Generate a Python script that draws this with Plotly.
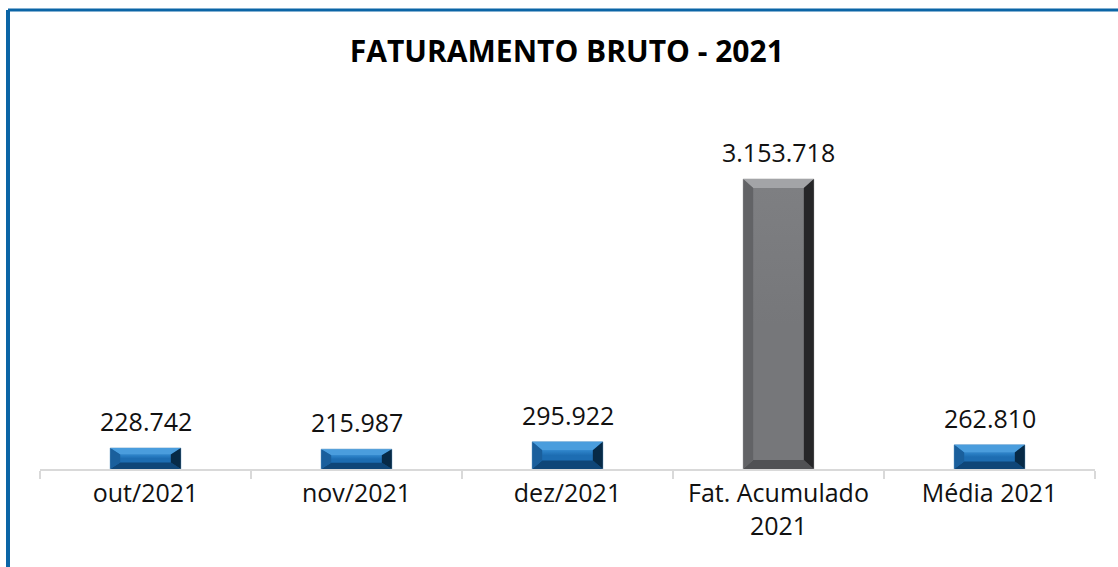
import plotly.graph_objects as go

categories = ["out/2021", "nov/2021", "dez/2021", "Fat. Acumulado<br>2021", "Média 2021"]
values = [228742, 215987, 295922, 3153718, 262810]
bar_kind = ["blue", "blue", "blue", "gray", "blue"]

FONT = "Open Sans"
W, H = 1118, 567
ML, MR, MT, MB = 40, 23, 100, 98
YMAX = 4013000
BAR_W = 0.335

plot_w = W - ML - MR
plot_h = H - MT - MB
px_per_x = plot_w / 5.0
px_per_y = plot_h / YMAX

palette = {
    "blue": dict(face="#1d6db2", face_top="#2f86cc", top="#4a9ddd", bottom="#0f4678",
                 left="#1a5f9c", right="#072a47", edge="#9fc0dc"),
    "gray": dict(face="#76777a", face_top="#7e7f82", top="#a3a4a7", bottom="#505154",
                 left="#626366", right="#262628", edge="#c8c8c8"),
}

fig = go.Figure()

xs = list(range(len(values)))
fig.add_trace(go.Bar(
    x=xs, y=values, width=BAR_W,
    marker=dict(color=[palette[k]["face"] for k in bar_kind],
                line=dict(color=[palette[k]["edge"] for k in bar_kind], width=1)),
    hoverinfo="skip", showlegend=False,
))

for i, (v, kind) in enumerate(zip(values, bar_kind)):
    c = palette[kind]
    x0, x1 = i - BAR_W / 2, i + BAR_W / 2
    h_px = v * px_per_y
    by_px = min(9.0, h_px / 3.2)
    bx = 10.0 / px_per_x
    by = by_px / px_per_y
    # face with a soft vertical gradient
    fig.add_trace(go.Scatter(
        x=[x0 + bx, x1 - bx, x1 - bx, x0 + bx, x0 + bx],
        y=[by, by, v - by, v - by, by], mode="lines", fill="toself",
        fillgradient=dict(type="vertical", colorscale=[[0, c["face"]], [0.5, c["face"]], [1, c["face_top"]]]),
        line=dict(width=0), hoverinfo="skip", showlegend=False,
    ))
    polys = {
        "top": ([x0, x1, x1 - bx, x0 + bx, x0], [v, v, v - by, v - by, v]),
        "bottom": ([x0, x1, x1 - bx, x0 + bx, x0], [0, 0, by, by, 0]),
        "left": ([x0, x0, x0 + bx, x0 + bx, x0], [0, v, v - by, by, 0]),
        "right": ([x1, x1, x1 - bx, x1 - bx, x1], [0, v, v - by, by, 0]),
    }
    for side, (px, py) in polys.items():
        fig.add_trace(go.Scatter(
            x=px, y=py, mode="lines", fill="toself", fillcolor=c[side],
            line=dict(width=0, color=c[side]), hoverinfo="skip", showlegend=False,
        ))
    fig.add_annotation(
        x=i, y=v, text=f"{v:,}".replace(",", "."), showarrow=False,
        yanchor="bottom", yshift=8, font=dict(family=FONT, size=25, color="#111111"),
    )

fig.update_layout(
    width=W, height=H,
    margin=dict(l=ML, r=MR, t=MT, b=MB),
    paper_bgcolor="white", plot_bgcolor="white",
    title=dict(text="<b>FATURAMENTO BRUTO - 2021</b>", x=0.507, xanchor="center",
               y=1 - 51 / H, yanchor="middle",
               font=dict(family=FONT, size=30, color="#000000")),
    xaxis=dict(range=[-0.5, 4.5], tickvals=[-0.5, 0.5, 1.5, 2.5, 3.5, 4.5],
               ticktext=[""] * 6, ticks="outside", ticklen=8, tickcolor="#d9d9d9",
               tickwidth=2, showline=True, linecolor="#d9d9d9", linewidth=2,
               showgrid=False, zeroline=False, fixedrange=True),
    xaxis2=dict(range=[-0.5, 4.5], overlaying="x", side="bottom", tickvals=xs,
                ticktext=categories, ticks="", showline=False, showgrid=False,
                zeroline=False, tickfont=dict(family=FONT, size=25, color="#111111"),
                ticklabelstandoff=7),
    yaxis=dict(range=[0, YMAX], visible=False, showgrid=False, zeroline=False),
)

fig.add_trace(go.Scatter(x=[0], y=[0], xaxis="x2", mode="markers",
                         marker=dict(opacity=0), hoverinfo="skip", showlegend=False))

# chart frame (blue border on left and top)
left_x = (8 - ML) / plot_w
top_y = (H - MB - 10) / plot_h
fig.add_shape(type="line", xref="paper", yref="paper", x0=left_x, x1=left_x,
              y0=-1, y1=top_y, line=dict(color="#0b65a6", width=4))
fig.add_shape(type="line", xref="paper", yref="paper", x0=left_x, x1=1.2,
              y0=top_y, y1=top_y, line=dict(color="#0b65a6", width=3))

fig.write_html("out.html", config={"displayModeBar": False},
               post_script="document.body.style.margin='0';")
